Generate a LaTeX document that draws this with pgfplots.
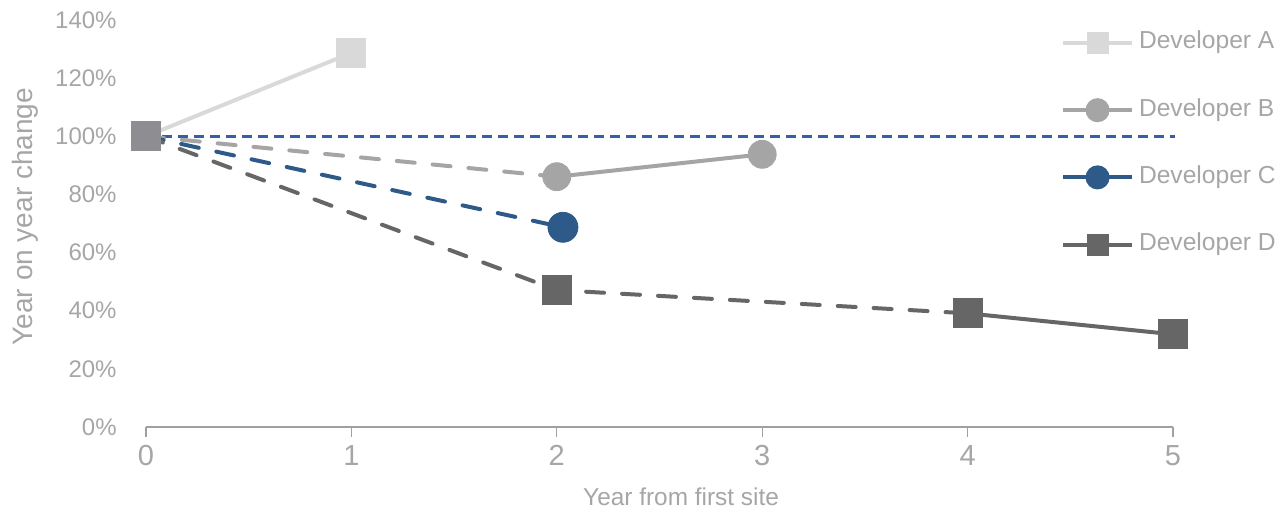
\documentclass[border=0pt]{standalone}
\usepackage{pgfplots}
\pgfplotsset{compat=1.18}
\usepackage{fontspec}
\setmainfont{Liberation Sans}
\definecolor{txt}{RGB}{166,166,166}
\definecolor{axc}{RGB}{160,160,160}
\definecolor{colA}{RGB}{217,217,217}
\definecolor{colB}{RGB}{165,165,165}
\definecolor{colC}{RGB}{45,90,136}
\definecolor{colD}{RGB}{102,102,102}
\definecolor{colR}{RGB}{55,92,168}
\definecolor{colZ}{RGB}{142,142,146}
\begin{document}
\begin{tikzpicture}
\useasboundingbox (-73pt,-42pt) rectangle (570.5pt,213.5pt);
\begin{axis}[
  at={(0pt,0pt)}, anchor=south west,
  scale only axis, width=513.5pt, height=203.5pt,
  xmin=0, xmax=5, ymin=0, ymax=140,
  clip=false,
  axis x line*=bottom, axis y line*=left,
  x axis line style={axc, line width=0.6pt, -},
  y axis line style={draw=none},
  xtick={0,1,2,3,4,5},
  ytick={0,20,...,140},
  tick align=outside,
  major tick length=5pt,
  xtick style={axc, line width=0.6pt},
  ytick style={draw=none},
  ticklabel style={text=txt},
  yticklabel style={font=\fontsize{12}{14}\selectfont},
  xticklabel style={font=\fontsize{14.5}{16}\selectfont},
  /pgf/number format/assume math mode=true,
  yticklabel={\pgfmathprintnumber{\tick}\%},
  yticklabel style={anchor=east, inner sep=0pt, xshift=-9.5pt},
  xticklabel style={anchor=north, inner sep=0pt, yshift=-4pt},
  xlabel={Year from first site},
  ylabel={Year on year change},
  label style={text=txt},
  xlabel style={font=\fontsize{12.2}{14}\selectfont, at={(axis description cs:0.521,-0.172)}, anchor=center},
  ylabel style={font=\fontsize{14}{16}\selectfont, at={(axis description cs:-0.118,0.517)}, anchor=center},
  legend style={at={(rel axis cs:0.891,0.973)}, anchor=north west, draw=none, fill=none,
    inner sep=0pt, outer sep=0pt, font=\fontsize{12.3}{14}\selectfont, text=txt,
    row sep=21.6pt, nodes={inner sep=0pt, text height=9pt, text depth=3pt}},
  legend cell align=left,
  /tikz/every odd column/.append style={column sep=2.5pt},
  legend image code/.code={
    \draw[#1, mark=none] (0pt,0pt) -- (34.5pt,0pt);
    \draw[#1] plot coordinates {(17.25pt,0pt)};
  },
]
% reference line
\addplot[forget plot, colR, line width=1.25pt, dash pattern=on 5pt off 3pt] coordinates {(0,100) (5.01,100)};
% Developer A
\addplot[forget plot, colA, line width=2pt] coordinates {(0,100) (1,128.7)};
\addplot[forget plot, colA, only marks, mark=square*, mark size=7.25pt] coordinates {(1,128.7)};
% Developer B
\addplot[forget plot, colB, line width=2pt, line cap=round, dash pattern=on 9pt off 9pt] coordinates {(0,100) (2,86.1)};
\addplot[forget plot, colB, line width=2pt] coordinates {(2,86.1) (3,93.8)};
\addplot[forget plot, colB, only marks, mark=*, mark size=7pt] coordinates {(2,86.1) (3,93.8)};
% Developer C
\addplot[forget plot, colC, line width=2pt, line cap=round, dash pattern=on 9pt off 9pt] coordinates {(0,100) (2.03,68.7)};
\addplot[forget plot, colC, only marks, mark=*, mark size=7.5pt] coordinates {(2.03,68.7)};
% Developer D
\addplot[forget plot, colD, line width=2pt, line cap=round, dash pattern=on 9pt off 9pt] coordinates {(0,100) (2,47.1) (4,39.1)};
\addplot[forget plot, colD, line width=2pt] coordinates {(4,39.1) (5,31.9)};
\addplot[forget plot, colD, only marks, mark=square*, mark size=7.25pt] coordinates {(2,47.1) (4,39.1) (5,31.9)};
% start point
\addplot[forget plot, colZ, only marks, mark=square*, mark size=7.25pt] coordinates {(0,100)};
% legend
\addlegendimage{colA, line width=2pt, mark=square*, mark size=4.5pt}
\addlegendentry{Developer A}
\addlegendimage{colB, line width=2pt, mark=*, mark size=5pt}
\addlegendentry{Developer B}
\addlegendimage{colC, line width=2pt, mark=*, mark size=5pt}
\addlegendentry{Developer C}
\addlegendimage{colD, line width=2pt, mark=square*, mark size=4.5pt}
\addlegendentry{Developer D}
\end{axis}
\end{tikzpicture}
\end{document}
